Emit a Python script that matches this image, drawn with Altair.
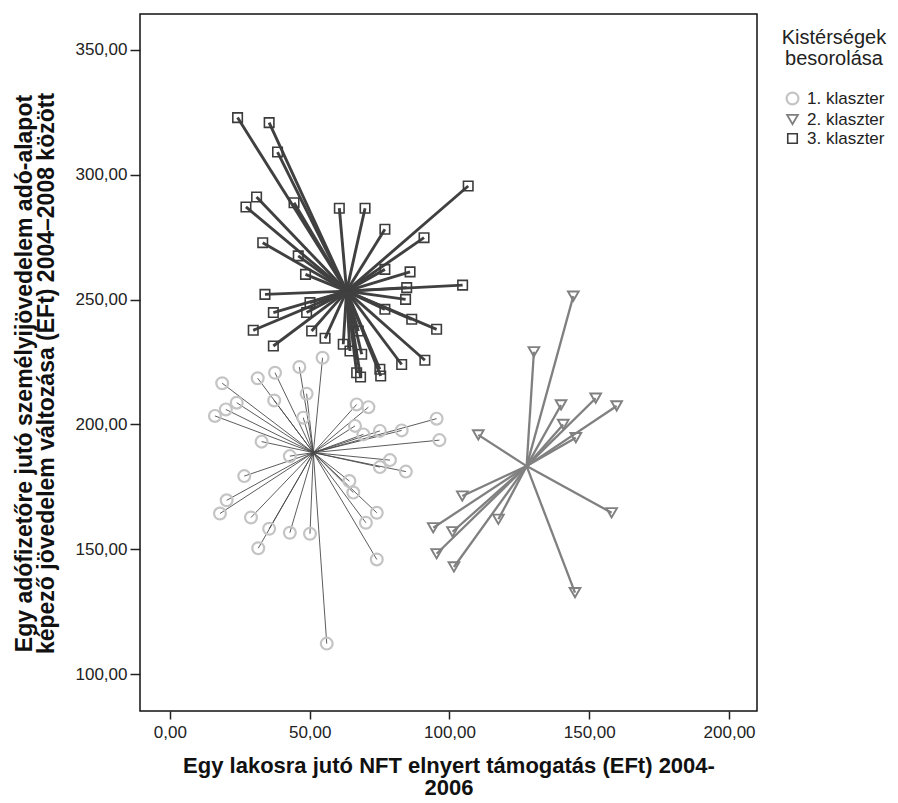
import altair as alt
import pandas as pd

# Cluster 1 (circles)
c1_x = [54.6, 18.7, 31.4, 37.6, 46.3, 48.9, 20.0, 23.9, 16.1, 37.3, 66.8, 71.0, 95.4, 82.9,
        75.1, 96.4, 32.8, 47.7, 69.2, 66.2, 78.7, 84.4, 75.1, 26.6, 42.9, 20.3, 17.9, 29.0,
        64.2, 65.6, 74.0, 70.1, 35.5, 42.9, 50.1, 31.6, 74.0, 56.1]
c1_y = [226.7, 216.5, 218.5, 220.7, 223.0, 212.3, 206.0, 208.7, 203.4, 209.6, 208.0, 206.9,
        202.3, 197.6, 197.4, 193.7, 193.1, 202.7, 196.0, 199.4, 185.7, 181.1, 182.9, 179.3,
        187.3, 169.6, 164.3, 162.7, 177.3, 172.7, 164.6, 160.6, 158.2, 156.6, 156.2, 150.4,
        145.9, 112.2]
c1_center = (51.3, 188.7)

# Cluster 2 (triangles)
c2_x = [144.3, 130.2, 139.9, 152.3, 159.8, 140.7, 145.2, 110.3, 104.6, 94.2, 101.1, 117.5,
        95.4, 101.6, 158.0, 144.9]
c2_y = [251.4, 229.1, 207.8, 210.5, 207.4, 200.0, 194.7, 195.8, 171.3, 158.6, 157.0, 162.0,
        148.2, 142.9, 164.6, 132.6]
c2_center = (127.6, 183.3)

# Cluster 3 (squares)
c3_x = [24.2, 35.5, 38.5, 106.7, 31.0, 27.2, 44.4, 60.6, 69.8, 76.9, 90.9, 33.2, 45.9, 76.9,
        85.9, 48.5, 104.7, 84.7, 34.0, 84.3, 50.1, 76.9, 37.0, 48.9, 86.5, 95.4, 29.8, 50.7,
        55.5, 37.0, 62.0, 64.4, 82.9, 91.2, 66.8, 68.2, 75.1, 75.4, 67.4, 68.6]
c3_y = [322.9, 320.9, 309.1, 295.5, 291.1, 287.1, 288.8, 286.6, 286.6, 278.2, 274.8, 272.8,
        267.5, 262.1, 261.1, 260.1, 255.8, 254.8, 252.1, 250.1, 248.8, 246.1, 244.8, 244.8,
        242.1, 238.1, 237.7, 237.4, 234.5, 231.4, 232.1, 229.4, 224.0, 225.7, 220.7, 219.0,
        222.1, 219.4, 237.4, 228.1]
c3_center = (63.2, 253.4)

clusters = ["1. klaszter", "2. klaszter", "3. klaszter"]
point_colors = ["#c4c4c4", "#808080", "#3c3c3c"]
line_colors = ["#4a4a4a", "#808080", "#404040"]
line_widths = [0.9, 2.3, 2.9]
shapes = ["circle", "triangle-down", "square"]
x_ticks = [0, 50, 100, 150, 200]
y_ticks = [100, 150, 200, 250, 300, 350]

rows = []
for name, xs, ys, ctr in zip(clusters, [c1_x, c2_x, c3_x], [c1_y, c2_y, c3_y],
                             [c1_center, c2_center, c3_center]):
    for xv, yv in zip(xs, ys):
        rows.append({"cluster": name, "x": xv, "y": yv, "cx": ctr[0], "cy": ctr[1]})
df = pd.DataFrame(rows)

FONT = "Liberation Sans"
label_expr = "replace(format(datum.value, '.2f'), '.', ',')"

xscale = alt.Scale(domain=[-10.7, 210.0], nice=False, zero=False)
yscale = alt.Scale(domain=[85.2, 364.4], nice=False, zero=False)

xaxis = alt.Axis(values=x_ticks, labelExpr=label_expr, grid=False, domain=False,
                 tickSize=8, tickWidth=1.5, tickColor="#222", labelPadding=5,
                 labelFontSize=17, labelFont=FONT, labelColor="#222",
                 title=["Egy lakosra jutó NFT elnyert támogatás (EFt) 2004-", "2006"],
                 titleFont=FONT, titleFontSize=22, titleFontWeight="bold",
                 titleColor="#111", titlePadding=15, titleLineHeight=22)
yaxis = alt.Axis(values=y_ticks, labelExpr=label_expr, grid=False, domain=False,
                 tickSize=10, tickWidth=1.5, tickColor="#222", labelPadding=3,
                 labelFontSize=17, labelFont=FONT, labelColor="#222",
                 title=["Egy adófizetőre jutó személyijövedelem adó-alapot",
                        "képező jövedelem változása (EFt) 2004–2008 között"],
                 titleFont=FONT, titleFontSize=23, titleFontWeight="bold",
                 titleColor="#111", titlePadding=17, titleLineHeight=22,
                 titleY=359)

layers = []
for name, col, w in zip(clusters, line_colors, line_widths):
    layers.append(
        alt.Chart(df).transform_filter(alt.datum.cluster == name).mark_rule(
            color=col, strokeWidth=w
        ).encode(
            x=alt.X("cx:Q", scale=xscale, axis=xaxis),
            y=alt.Y("cy:Q", scale=yscale, axis=yaxis),
            x2="x:Q",
            y2="y:Q",
        )
    )

points = alt.Chart(df).mark_point(filled=False, opacity=1).encode(
    x=alt.X("x:Q", scale=xscale, axis=xaxis),
    y=alt.Y("y:Q", scale=yscale, axis=yaxis),
    shape=alt.Shape("cluster:N", scale=alt.Scale(domain=clusters, range=shapes),
                    legend=alt.Legend(title=["Kistérségek", "besorolása"])),
    color=alt.Color("cluster:N", scale=alt.Scale(domain=clusters, range=point_colors),
                    legend=alt.Legend(title=["Kistérségek", "besorolása"])),
    size=alt.Size("cluster:N", scale=alt.Scale(domain=clusters, range=[140, 90, 150]),
                  legend=None),
    strokeWidth=alt.StrokeWidth("cluster:N",
                                scale=alt.Scale(domain=clusters, range=[2.2, 1.6, 2.0]),
                                legend=None),
)

chart = alt.layer(*layers, points).properties(
    width=617, height=697,
    autosize=alt.AutoSizeParams(type="none"),
    padding={"left": 140, "top": 14, "right": 141, "bottom": 92},
    background="white",
).configure_view(
    stroke="#111", strokeWidth=1.5
).configure_legend(
    orient="none", legendX=642, legendY=14,
    titleFont=FONT, titleFontSize=20, titleFontWeight="normal", titleColor="#222",
    titleAlign="center", titleAnchor="middle", titleLineHeight=21, titlePadding=21,
    labelFont=FONT, labelFontSize=17, labelColor="#222", labelOffset=6,
    symbolSize=150, symbolStrokeWidth=1.8, rowPadding=1, padding=0,
)

chart.save("out.html", embed_options={"renderer": "svg", "actions": False})
